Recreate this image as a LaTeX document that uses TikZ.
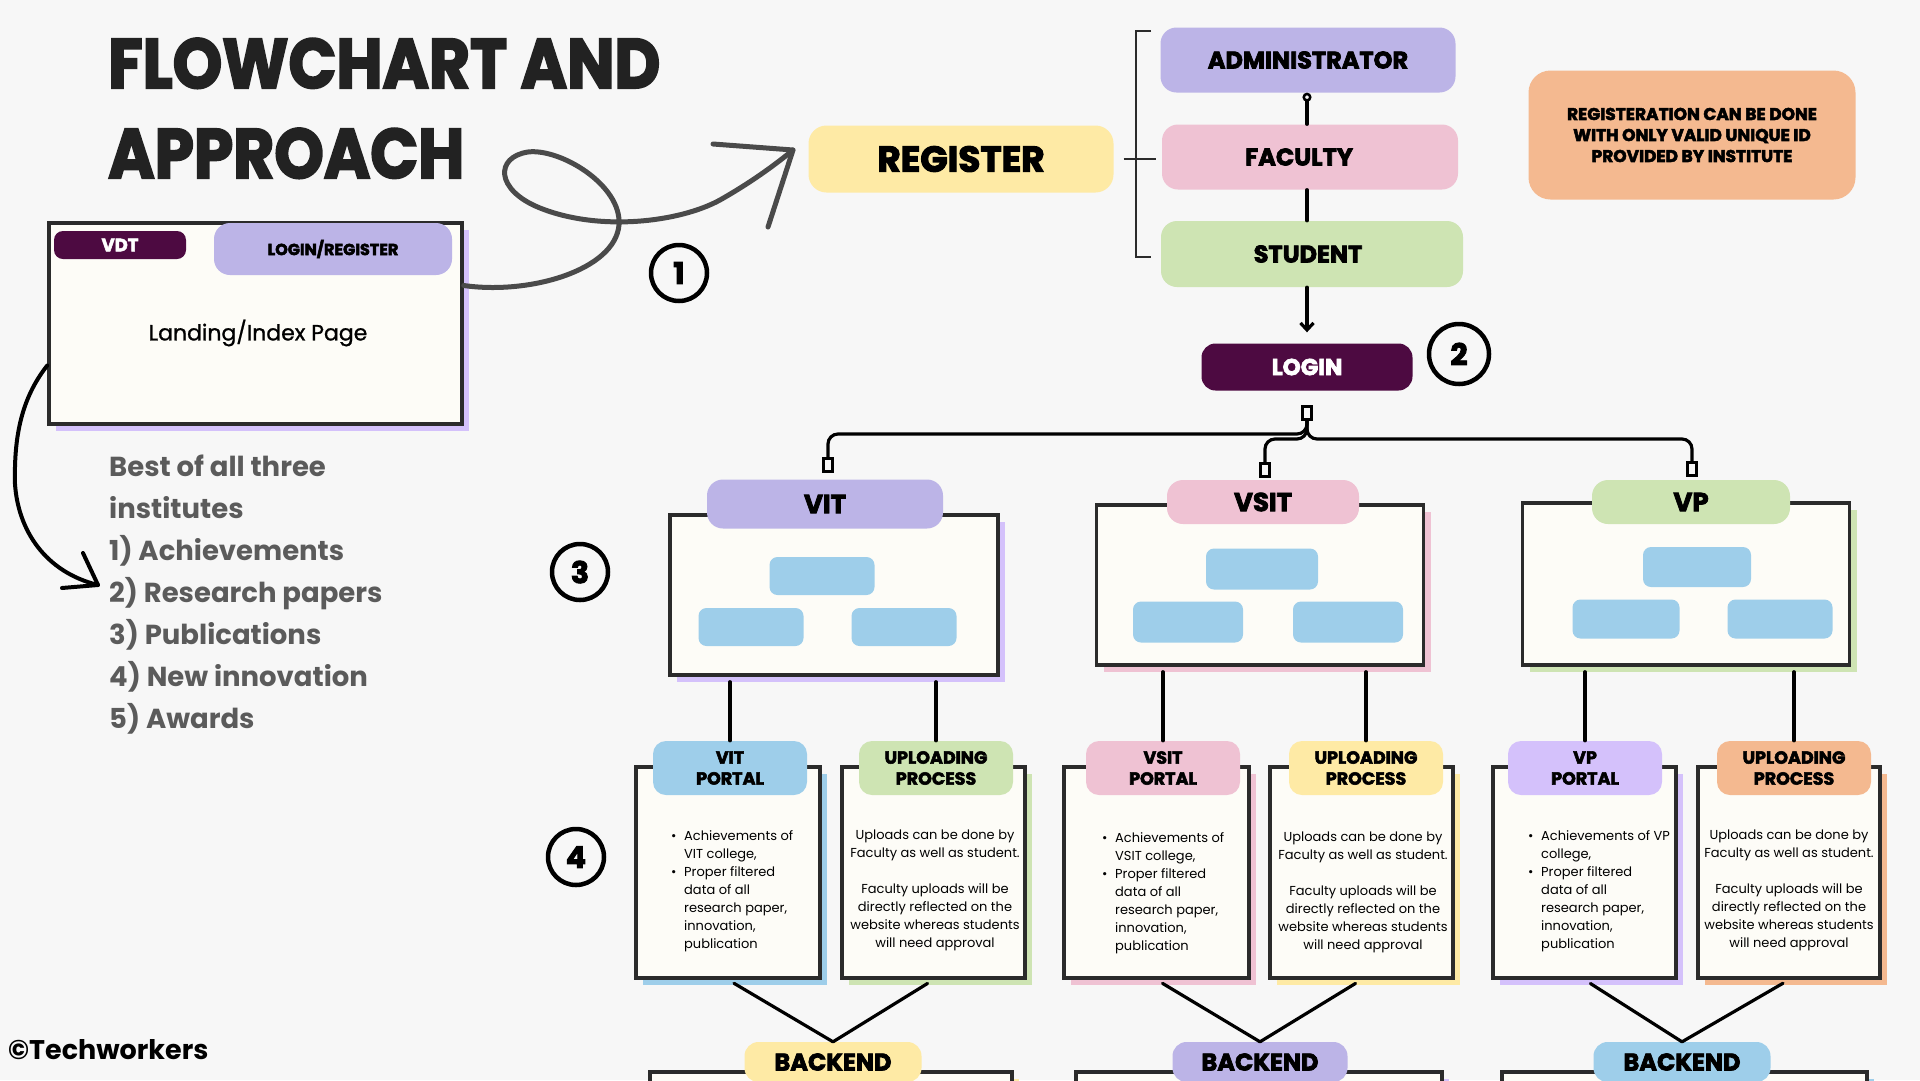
\documentclass[tikz,border=0pt]{standalone}
\usepackage{fontspec}
\setmainfont{Poppins}
\newfontfamily\heavyfont{Poppins}[BoldFeatures={FakeBold=3}]
\newfontfamily\medfont{Poppins}[UprightFeatures={FakeBold=1}]
\usepackage{graphicx}
\usetikzlibrary{shadows,arrows.meta,calc}

\definecolor{bg}{HTML}{F7F7F7}
\definecolor{outl}{HTML}{2B2B2B}
\definecolor{cream}{HTML}{FDFCF7}
\definecolor{lav}{HTML}{BCB4E7}
\definecolor{lavl}{HTML}{D4C1FB}
\definecolor{pinkc}{HTML}{EFC2D3}
\definecolor{greenc}{HTML}{CEE4B3}
\definecolor{yelc}{HTML}{FEEAA5}
\definecolor{orangec}{HTML}{F4B990}
\definecolor{bluec}{HTML}{9ECEEA}
\definecolor{dpurple}{HTML}{4D0A41}
\definecolor{titlec}{HTML}{222222}
\definecolor{grayt}{HTML}{5B5B5B}
\definecolor{arrowg}{HTML}{4A4A4A}

\tikzset{
  skbox/.style={rectangle, draw=outl, line width=3.5pt, fill=cream, inner sep=0pt,
    copy shadow={shadow xshift=7pt, shadow yshift=-7pt, draw=none, fill=#1}},
  pill/.style={rectangle, rounded corners=14pt, inner sep=0pt, fill=#1},
  bar/.style={rectangle, rounded corners=8pt, fill=bluec, minimum height=38pt, inner sep=0pt},
  link/.style={draw=black, line width=3.2pt, line cap=round},
  sq/.style={rectangle, draw=black, line width=3pt, fill=bg, minimum width=9pt, minimum height=13pt, inner sep=0pt},
  numc/.style={circle, draw=black, line width=4.5pt, minimum size=56pt, inner sep=0pt, font=\heavyfont\bfseries\fontsize{30}{30}\selectfont},
  curly/.style={draw=arrowg, line width=5pt, line cap=round, line join=round},
  handarrow/.style={draw=black, line width=4pt, line cap=round, line join=round},
  labfont/.style={font=\heavyfont\bfseries\fontsize{#1}{#1}\selectfont},
  cardlab/.style={pill=#1, rounded corners=13pt, minimum width=154pt, minimum height=54pt, align=center, font=\heavyfont\bfseries\fontsize{17.5}{21}\selectfont},
  cardtxt/.style={inner sep=0pt, font=\fontsize{13}{18}\selectfont},
}

\newcommand{\bul}{\makebox[13pt][l]{\textbullet}}
\newcommand{\ind}{\hspace*{13pt}}

\begin{document}
\begin{tikzpicture}[x=1pt, y=-1pt]
\useasboundingbox (0,0) rectangle (1920,1080);
\fill[bg] (0,0) rectangle (1920,1080);

% ---------- title ----------
\node[anchor=base west, inner sep=0pt, text=titlec, font=\heavyfont\bfseries\fontsize{70}{70}\selectfont] (t1) at (108,88) {\scalebox{0.9}[1]{FLOWCHART AND}};
\node[anchor=base west, inner sep=0pt, text=titlec, font=\heavyfont\bfseries\fontsize{70}{70}\selectfont] (t2) at (108,178) {\scalebox{0.9}[1]{APPROACH}};

% ---------- landing page ----------
\node[skbox=lavl, minimum width=413pt, minimum height=201pt] (landing) at (255.5,323.5) {};
\node[pill=dpurple, rounded corners=9pt, minimum width=132pt, minimum height=28pt, text=white, labfont=18] (vdt) at (120,245) {VDT};
\node[pill=lav, rounded corners=16pt, minimum width=238pt, minimum height=52pt, labfont=16] (logreg) at (333,249) {\raisebox{3pt}{LOGIN/REGISTER}};
\node[font=\medfont\fontsize{22}{22}\selectfont, inner sep=0pt] (landtxt) at (258,333) {Landing/Index Page};

% ---------- register ----------
\node[pill=yelc, rounded corners=18pt, minimum width=305pt, minimum height=67pt, labfont=36] (register) at (961,159) {REGISTER};

% curly arrow 1
\coordinate (tip1) at (793,150);
\draw[curly] ([yshift=38pt]landing.east) .. controls (530,295) and (615,270) .. (619,225)
  .. controls (622,185) and (560,148) .. (528,152)
  .. controls (495,157) and (495,190) .. (540,208)
  .. controls (600,232) and (680,222) .. (720,200)
  .. controls (750,183) and (775,165) .. (tip1);
\draw[curly] (713,144) -- (tip1) -- (768,227);
\node[numc] (c1) at (679,273) {1};

% ---------- roles ----------
\node[pill=lav, rounded corners=16pt, minimum width=295pt, minimum height=65pt, labfont=24] (admin) at (1308,60) {ADMINISTRATOR};
\node[pill=pinkc, rounded corners=16pt, minimum width=296pt, minimum height=65pt, labfont=24] (faculty) at (1310,157) {\hspace*{-22pt}FACULTY};
\node[pill=greenc, rounded corners=16pt, minimum width=302pt, minimum height=66pt, labfont=24] (student) at (1312,254) {\hspace*{-8pt}STUDENT};

% bracket
\coordinate (brT) at (1136,31);
\coordinate (brB) at (1136,257);
\draw[draw=outl, line width=1.6pt] ([xshift=15pt]brT) -- (brT) -- (brB) -- ([xshift=15pt]brB);
\draw[draw=outl, line width=1.6pt] ([xshift=10pt]register.east) -- ([xshift=-6pt]faculty.west |- register.east);

% login
\node[pill=dpurple, rounded corners=14pt, minimum width=211pt, minimum height=47pt, text=white, labfont=23] (login) at (1307,367) {LOGIN};
\node[numc, minimum size=60pt] (c2) at (1459,354) {2};

\draw[link, {Circle[open, length=9pt, width=9pt, line width=2.5pt]}-] (admin.south -| login) -- (faculty.north -| login);
\draw[link] (faculty.south -| login) -- (student.north -| login);
\draw[link, -{Straight Barb[length=7pt, width=13pt]}] (student.south -| login) -- ([yshift=11pt]login.north);

% note
\node[pill=orangec, rounded corners=22pt, minimum width=327pt, minimum height=129pt, align=center, font=\heavyfont\bfseries\fontsize{17}{21}\selectfont] (note) at (1692,135) {REGISTERATION CAN BE DONE\\WITH ONLY VALID UNIQUE ID\\PROVIDED BY INSTITUTE};

% ---------- left list ----------
\coordinate (tip2) at (98,585);
\draw[handarrow] ([yshift=-42pt]landing.west) .. controls (20,400) and (14,440) .. (15,484)
  .. controls (18,530) and (45,572) .. (tip2);
\draw[handarrow] (62,588) -- (tip2) -- (83,553);
\foreach \t [count=\i] in {Best of all three, institutes, 1) Achievements, 2) Research papers, 3) Publications, 4) New innovation, 5) Awards}{
  \node[anchor=base west, inner sep=0pt, text=grayt, font=\bfseries\fontsize{27.5}{28}\selectfont] (l\i) at (109,{476+42*(\i-1)}) {\t};
}
\node[anchor=base west, inner sep=0pt, font=\bfseries\fontsize{27}{27}\selectfont] (tw) at (8,1059) {©Techworkers};

% ---------- tree from login ----------
\node[sq] (sq0) at (1307,413) {};
\node[sq] (vitsq) at (828,465) {};
\node[sq] (vsitsq) at (1265,470) {};
\node[sq] (vpsq) at (1692,469) {};
\draw[link, rounded corners=10pt] (sq0.south) -- ++(0,13) -| (vitsq.north);
\draw[link, rounded corners=10pt] (sq0.south) -- ++(0,18) -| (vsitsq.north);
\draw[link, rounded corners=10pt] (sq0.south) -- ++(0,18) -| (vpsq.north);

\node[numc] (c3) at (580,572) {3};
\node[numc] (c4) at (576,857) {4};

% ---------- portal windows ----------
\node[skbox=lavl, minimum width=328pt, minimum height=160pt] (vitwin) at (834,595) {};
\node[skbox=pinkc, minimum width=327pt, minimum height=160pt] (vsitwin) at (1260,585) {};
\node[skbox=greenc, minimum width=327pt, minimum height=162pt] (vpwin) at (1686,584) {};

\node[pill=lav, rounded corners=16pt, minimum width=236pt, minimum height=49pt, labfont=26] (vitlab) at (825,504) {VIT};
\node[pill=pinkc, rounded corners=16pt, minimum width=192pt, minimum height=44pt, labfont=26] (vsitlab) at (1263,502) {VSIT};
\node[pill=greenc, rounded corners=16pt, minimum width=198pt, minimum height=44pt, labfont=26] (vplab) at (1691,502) {VP};

\node[bar, minimum width=105pt] (b11) at (822,576) {};
\node[bar, minimum width=105pt] (b12) at (751,627) {};
\node[bar, minimum width=105pt] (b13) at (904,627) {};
\node[bar, minimum width=112pt, minimum height=41pt] (b21) at (1262,569) {};
\node[bar, minimum width=110pt, minimum height=41pt] (b22) at (1188,622) {};
\node[bar, minimum width=110pt, minimum height=41pt] (b23) at (1348,622) {};
\node[bar, minimum width=108pt, minimum height=40pt] (b31) at (1697,567) {};
\node[bar, minimum width=107pt, minimum height=39pt] (b32) at (1626,619) {};
\node[bar, minimum width=105pt, minimum height=39pt] (b33) at (1780,619) {};

% ---------- cards ----------
\node[skbox=bluec, minimum width=184pt, minimum height=211pt] (vitcard) at (728,872.5) {};
\node[skbox=greenc, minimum width=183pt, minimum height=211pt] (up1card) at (933.5,872.5) {};
\node[skbox=pinkc, minimum width=185pt, minimum height=211pt] (vsitcard) at (1156.5,872.5) {};
\node[skbox=yelc, minimum width=183pt, minimum height=211pt] (up2card) at (1361.5,872.5) {};
\node[skbox=lavl, minimum width=183pt, minimum height=211pt] (vpcard) at (1584.5,872.5) {};
\node[skbox=orangec, minimum width=182pt, minimum height=211pt] (up3card) at (1789,872.5) {};

\node[cardlab=bluec] (vitpl) at (730,768) {VIT\\PORTAL};
\node[cardlab=greenc] (up1pl) at (936,768) {UPLOADING\\PROCESS};
\node[cardlab=pinkc] (vsitpl) at (1163,768) {VSIT\\PORTAL};
\node[cardlab=yelc] (up2pl) at (1366,768) {UPLOADING\\PROCESS};
\node[cardlab=lavl] (vppl) at (1585,768) {VP\\PORTAL};
\node[cardlab=orangec] (up3pl) at (1794,768) {UPLOADING\\PROCESS};

\draw[link, shorten <=5pt] (vitwin.south -| vitpl.north) -- (vitpl.north);
\draw[link, shorten <=5pt] (vitwin.south -| up1pl.north) -- (up1pl.north);
\draw[link, shorten <=5pt] (vsitwin.south -| vsitpl.north) -- (vsitpl.north);
\draw[link, shorten <=5pt] (vsitwin.south -| up2pl.north) -- (up2pl.north);
\draw[link, shorten <=5pt] (vpwin.south -| vppl.north) -- (vppl.north);
\draw[link, shorten <=5pt] (vpwin.south -| up3pl.north) -- (up3pl.north);

\node[cardtxt, anchor=north west, align=left] (vittx) at (671,830) {\bul Achievements of\\\ind VIT college,\\\bul Proper filtered\\\ind data of all\\\ind research paper,\\\ind innovation,\\\ind publication};
\node[cardtxt, anchor=north west, align=left] (vsittx) at (1102,832) {\bul Achievements of\\\ind VSIT college,\\\bul Proper filtered\\\ind data of all\\\ind research paper,\\\ind innovation,\\\ind publication};
\node[cardtxt, anchor=north west, align=left] (vptx) at (1528,830) {\bul Achievements of VP\\\ind college,\\\bul Proper filtered\\\ind data of all\\\ind research paper,\\\ind innovation,\\\ind publication};

\node[cardtxt, anchor=north, align=center] (up1tx) at (935,830) {Uploads can be done by\\Faculty as well as student.\\[18pt]Faculty uploads will be\\directly reflected on the\\website whereas students\\will need approval};
\node[cardtxt, anchor=north, align=center] (up2tx) at (1363,832) {Uploads can be done by\\Faculty as well as student.\\[18pt]Faculty uploads will be\\directly reflected on the\\website whereas students\\will need approval};
\node[cardtxt, anchor=north, align=center] (up3tx) at (1789,830) {Uploads can be done by\\Faculty as well as student.\\[18pt]Faculty uploads will be\\directly reflected on the\\website whereas students\\will need approval};

% ---------- backend ----------
\node[skbox=yelc, minimum width=362pt, minimum height=80pt] (bot1) at (831,1112) {};
\node[skbox=lavl, minimum width=366pt, minimum height=80pt] (bot2) at (1259,1112) {};
\node[skbox=bluec, minimum width=365pt, minimum height=80pt] (bot3) at (1684.5,1112) {};

\node[pill=yelc, rounded corners=14pt, minimum width=177pt, minimum height=40pt, labfont=24] (be1) at (833,1062) {BACKEND};
\node[pill=lav, rounded corners=14pt, minimum width=175pt, minimum height=40pt, labfont=24] (be2) at (1260,1062) {BACKEND};
\node[pill=bluec, rounded corners=14pt, minimum width=177pt, minimum height=40pt, labfont=24] (be3) at (1682,1062) {BACKEND};

\draw[link, shorten <=7pt] (vitcard.south) -- (be1.north);
\draw[link, shorten <=7pt] (up1card.south) -- (be1.north);
\draw[link, shorten <=7pt] (vsitcard.south) -- (be2.north);
\draw[link, shorten <=7pt] (up2card.south) -- (be2.north);
\draw[link, shorten <=7pt] (vpcard.south) -- (be3.north);
\draw[link, shorten <=7pt] (up3card.south) -- (be3.north);
\end{tikzpicture}
\end{document}
